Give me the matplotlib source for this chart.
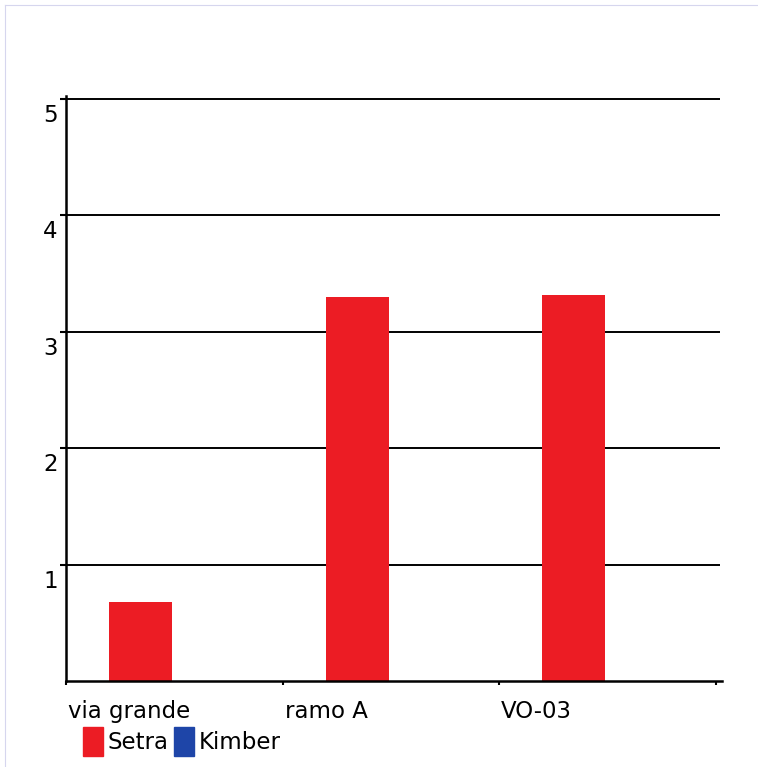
import matplotlib
matplotlib.use("Agg")
import matplotlib.pyplot as plt
from matplotlib.patches import Rectangle
from matplotlib.lines import Line2D
import matplotlib.transforms as mtransforms

# Data
categories = ["via grande", "ramo A", "VO-03"]
series_names = ["Setra", "Kimber"]
setra = [0.68, 3.30, 3.32]
kimber = [0.0, 0.0, 0.0]
y_ticks = [1, 2, 3, 4, 5]

colors = {"Setra": "#EC1C24", "Kimber": "#1E45A8"}

plt.rcParams["font.family"] = ["DejaVu Sans"]
FS = 16.5

fig = plt.figure(figsize=(7.58, 7.67), dpi=100)
W, H = 758, 767

# faint page border along top and left
fig.add_artist(Line2D([5 / W, 5 / W], [0, 1 - 5 / H], transform=fig.transFigure,
                      color="#d6d6ee", lw=0.8))
fig.add_artist(Line2D([5 / W, 1], [1 - 5 / H, 1 - 5 / H], transform=fig.transFigure,
                      color="#d6d6ee", lw=0.8))

left, right, top, bottom = 66, 722, 99, 681
ax = fig.add_axes([left / W, 1 - bottom / H, (right - left) / W, (bottom - top) / H])

n = len(categories)
bar_w = 0.29
offset = 0.20
xs = list(range(n))
ax.bar([x + offset for x in xs], setra, width=bar_w, align="edge",
       color=colors["Setra"], zorder=3, label="Setra")
ax.bar([x + offset + bar_w for x in xs], kimber, width=bar_w, align="edge",
       color=colors["Kimber"], zorder=3, label="Kimber")

ax.set_xlim(0, n + 0.03)
ax.set_ylim(0, 5)

# horizontal grid lines
for v in y_ticks:
    ax.plot([0, n + 0.02], [v, v], color="black", lw=1.4, zorder=2, clip_on=False,
            solid_capstyle="butt")

for side in ("top", "right"):
    ax.spines[side].set_visible(False)
for side in ("left", "bottom"):
    ax.spines[side].set_linewidth(1.8)
    ax.spines[side].set_zorder(4)
ax.spines["left"].set_bounds(0, 5.03)

ax.tick_params(axis="y", direction="out", length=4.5, width=1.5, pad=1.5)
ax.set_yticks(y_ticks)
ax.set_yticklabels([str(v) for v in y_ticks], fontsize=FS)
yshift = mtransforms.ScaledTranslation(0, -5 / 100, fig.dpi_scale_trans)
for lab in ax.get_yticklabels():
    lab.set_va("top")
    lab.set_transform(lab.get_transform() + yshift)

ax.tick_params(axis="x", direction="out", length=3, width=1.5, pad=10.5)
ax.set_xticks(list(range(n + 1)))
ax.set_xticklabels(categories + [""], fontsize=FS, ha="left")
xshift = mtransforms.ScaledTranslation(2 / 100, 0, fig.dpi_scale_trans)
for lab in ax.get_xticklabels():
    lab.set_transform(lab.get_transform() + xshift)

handles = [Rectangle((0, 0), 1, 1, color=colors[s]) for s in series_names]
fig.legend(handles, series_names, loc="upper left",
           bbox_to_anchor=(83 / W, 1 - 727 / H), bbox_transform=fig.transFigure,
           ncol=2, frameon=False, fontsize=FS, handlelength=0.87, handleheight=1.55,
           handletextpad=0.22, columnspacing=0.22, borderpad=0, borderaxespad=0)

fig.savefig("out.png", dpi=100)
